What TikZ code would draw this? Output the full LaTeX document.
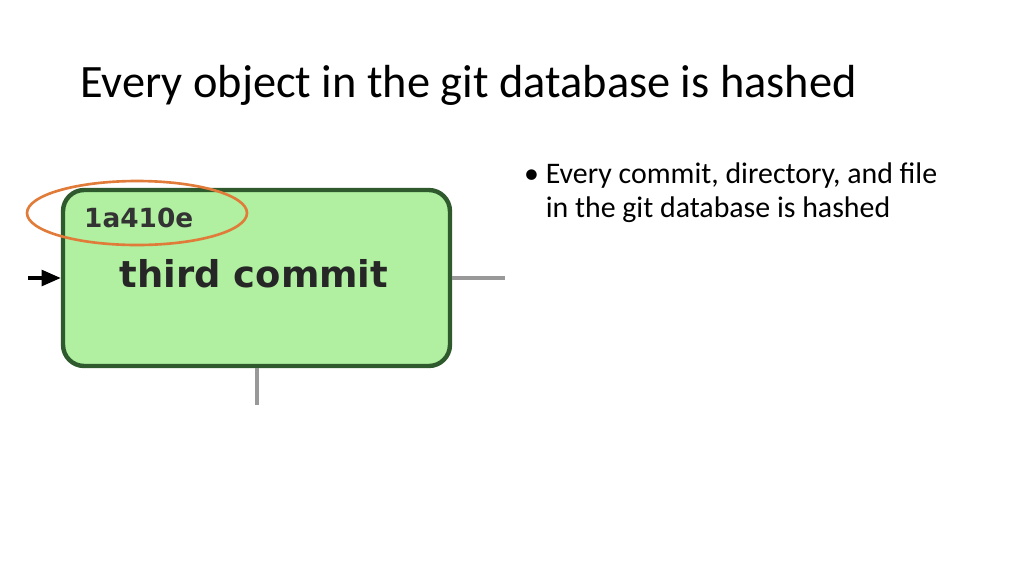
\documentclass[tikz,border=0pt]{standalone}
\usepackage{fontspec}
\setmainfont{Carlito}
\newfontfamily\boxfont{DejaVu Sans}
\usetikzlibrary{positioning, arrows.meta}
\definecolor{commitfill}{HTML}{B0F0A0}
\definecolor{commitdraw}{HTML}{2E5A2E}
\definecolor{hashring}{HTML}{E07B39}
\begin{document}
\begin{tikzpicture}[x=0.02cm, y=-0.02cm, >=Triangle]
    \tikzset{
        commit/.style={
                rectangle, rounded corners=12pt, draw=commitdraw, fill=commitfill,
                line width=2.5pt, minimum width=7.74cm, minimum height=3.52cm
            },
        link/.style={draw=gray!80, line width=2.5pt}
    }
    \useasboundingbox (0,0) rectangle (1024,576);

    % Title and bullet
    \node[anchor=west, font=\fontsize{26.4}{30}\selectfont] (title) at (74,85) {Every object in the git database is hashed};
    \node[anchor=north west, align=left, font=\fontsize{17}{20}\selectfont] (bullet) at (518,157)
        {\textbullet\ Every commit, directory, and file\\[-1pt]\hphantom{\textbullet\ }in the git database is hashed};

    % Commit box
    \node[commit] (c3) at (256.5,278) {};
    \node[font=\boxfont\bfseries\fontsize{21}{24}\selectfont, text=black!85] (msg) at (254,274) {third commit};
    \node[font=\boxfont\bfseries\fontsize{15}{17}\selectfont, text=black!80, anchor=west] (hash) at (78,218) {1a410e};

    % Connectors
    \coordinate (inL) at (28,278);
    \coordinate (outR) at (505,278);
    \coordinate (outB) at (257,405);
    \draw[-{Triangle[length=11pt, width=9pt]}, line width=2pt] (inL) -- (c3.west);
    \draw[link] (c3.east) -- (outR);
    \draw[link] (c3.south -| outB) -- (outB);

    % Highlight ring
    \draw[hashring, line width=1.5pt] (137,213) ellipse [x radius=110, y radius=32];
\end{tikzpicture}
\end{document}
